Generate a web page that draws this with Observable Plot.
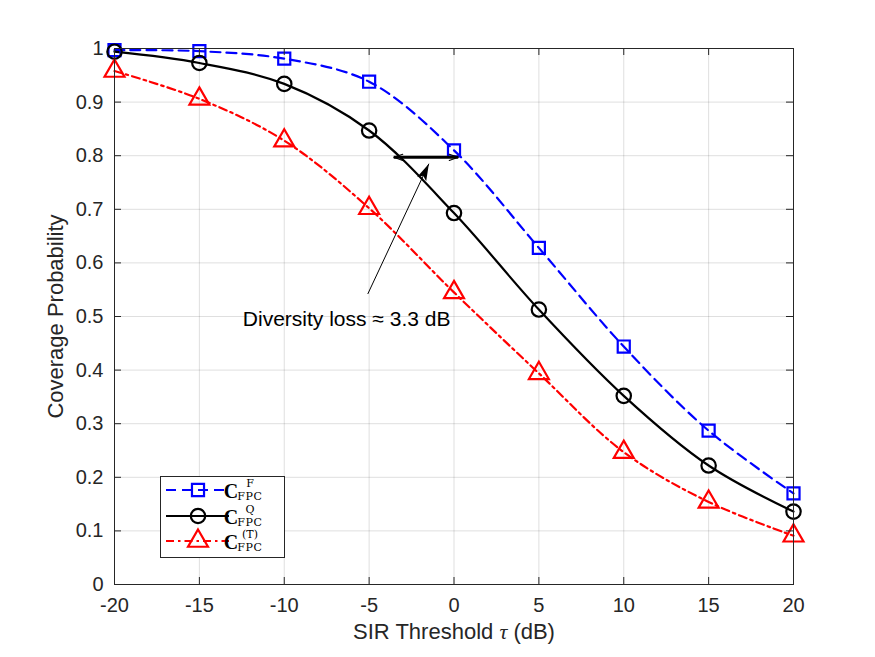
<!DOCTYPE html>
<html>
<head>
<meta charset="utf-8">
<script src="https://cdn.jsdelivr.net/npm/d3@7"></script>
<script src="https://cdn.jsdelivr.net/npm/@observablehq/plot@0.6"></script>
<style>
  html, body { margin: 0; padding: 0; background: #fff; }
  #chart { width: 875px; height: 657px; }
</style>
</head>
<body>
<div id="chart"></div>
<script>
// SIR threshold (dB) and coverage probability for the three schemes
const sirDb = [-20, -15, -10, -5, 0, 5, 10, 15, 20];
const covF  = [0.997, 0.995, 0.981, 0.938, 0.810, 0.628, 0.444, 0.287, 0.170];
const covQ  = [0.994, 0.973, 0.934, 0.847, 0.693, 0.513, 0.352, 0.222, 0.136];
const covT  = [0.958, 0.906, 0.828, 0.702, 0.545, 0.394, 0.247, 0.154, 0.091];

const xTicks = [-20, -15, -10, -5, 0, 5, 10, 15, 20];
const yTicks = [0, 0.1, 0.2, 0.3, 0.4, 0.5, 0.6, 0.7, 0.8, 0.9, 1];

const xLabel = "SIR Threshold τ (dB)";
const yLabel = "Coverage Probability";

// Legend entries: superscript of C and subscript
const legendSup = ["F", "Q", "(T)"];
const legendSub = "FPC";

// Annotation: horizontal gap arrow, pointer arrow and its note
const gapArrow = { x1: -3.55, x2: 0.25, y: 0.797 };
const pointer  = { x1: -5.08, y1: 0.542, x2: -1.48, y2: 0.785 };
const note     = { x: -12.44, y: 0.494, text: "Diversity loss ≈ 3.3 dB" };

// Layout
const W = 875, H = 657;
const mL = 114, mR = 82, mT = 48, mB = 73;
const fw = W - mL - mR, fh = H - mT - mB;
const xDomain = [-20, 20], yDomain = [0, 1];
const tickLen = 7;
const tx = tickLen * (xDomain[1] - xDomain[0]) / fw;
const ty = tickLen * (yDomain[1] - yDomain[0]) / fh;
const INK = "#262626";
const FONT = "'Liberation Sans', Arial, Helvetica, sans-serif";

const series = [
  { values: covF, color: "#0000ff", dash: "10,6",        symbol: "square",   r: 6.8 },
  { values: covQ, color: "#000000", dash: null,          symbol: "circle",   r: 7.2 },
  { values: covT, color: "#ff0000", dash: "8,4,2.5,4",   symbol: "triangle", r: 7.4 }
];
const rowsOf = (vals) => sirDb.map((x, i) => ({ x, y: vals[i] }));

// Filled, notched arrowhead drawn at the pointer tip
const headShape = {
  draw(ctx, l, r) {
    const w = 5;
    ctx.moveTo(0, -l);
    ctx.lineTo(w, 0);
    ctx.lineTo(0, -l * 0.22);
    ctx.lineTo(-w, 0);
    ctx.closePath();
  }
};
const pointerAngle = Math.atan2(
  (pointer.x2 - pointer.x1) * fw / (xDomain[1] - xDomain[0]),
  (pointer.y2 - pointer.y1) * fh / (yDomain[1] - yDomain[0])
) * 180 / Math.PI;
const gapMid = (gapArrow.x1 + gapArrow.x2) / 2;

const marks = [
  Plot.gridX(xTicks, { stroke: INK, strokeOpacity: 0.15, strokeWidth: 1 }),
  Plot.gridY(yTicks, { stroke: INK, strokeOpacity: 0.15, strokeWidth: 1 }),
  Plot.axisX(xTicks, { tickSize: 0, tickPadding: 13, tickFormat: d => String(d), fontSize: 20, label: null, color: INK }),
  Plot.axisY(yTicks, { tickSize: 0, tickPadding: 11, tickFormat: d => String(d), fontSize: 20, label: null, color: INK }),
  Plot.text([xLabel], { frameAnchor: "bottom", dy: 47, fontSize: 22, textAnchor: "middle", lineAnchor: "middle", fill: INK, letterSpacing: 0.8 }),
  Plot.text([yLabel], { frameAnchor: "left", dx: -59, rotate: -90, fontSize: 22, textAnchor: "middle", lineAnchor: "middle", fill: INK, letterSpacing: 0.6 })
];

for (const s of series) {
  marks.push(Plot.line(rowsOf(s.values), {
    x: "x", y: "y", stroke: s.color, strokeWidth: 2.2, curve: "catmull-rom",
    strokeDasharray: s.dash ?? undefined
  }));
}
for (const s of series) {
  marks.push(Plot.dot(rowsOf(s.values), {
    x: "x", y: "y", symbol: s.symbol, r: s.r, stroke: s.color, strokeWidth: 2.2, fill: "none"
  }));
}

marks.push(
  // gap arrow: thick shaft with thin open heads at both ends
  Plot.link([gapArrow], { x1: "x1", x2: "x2", y1: "y", y2: "y", stroke: "black", strokeWidth: 3 }),
  Plot.arrow([gapArrow], { x1: () => gapMid, x2: "x1", y1: "y", y2: "y", stroke: "black", strokeWidth: 1.1, headLength: 13, headAngle: 38 }),
  Plot.arrow([gapArrow], { x1: () => gapMid, x2: "x2", y1: "y", y2: "y", stroke: "black", strokeWidth: 1.1, headLength: 13, headAngle: 38 }),
  // pointer from the note to the gap
  Plot.link([pointer], { x1: "x1", y1: "y1", x2: "x2", y2: "y2", stroke: "black", strokeWidth: 1 }),
  Plot.vector([pointer], { x: "x2", y: "y2", rotate: pointerAngle, length: 17, anchor: "end", shape: headShape, fill: "black", stroke: "none" }),
  Plot.text([note], { x: "x", y: "y", text: "text", textAnchor: "start", lineAnchor: "middle", fontSize: 21, fill: "black" }),
  // box and inward ticks on all four sides
  Plot.frame({ stroke: INK, strokeWidth: 1 }),
  Plot.ruleX(xTicks, { x: d => d, y1: yDomain[0], y2: yDomain[0] + ty, stroke: INK }),
  Plot.ruleX(xTicks, { x: d => d, y1: yDomain[1] - ty, y2: yDomain[1], stroke: INK }),
  Plot.ruleY(yTicks, { y: d => d, x1: xDomain[0], x2: xDomain[0] + tx, stroke: INK }),
  Plot.ruleY(yTicks, { y: d => d, x1: xDomain[1] - tx, x2: xDomain[1], stroke: INK })
);

const plot = Plot.plot({
  width: W, height: H,
  marginLeft: mL, marginRight: mR, marginTop: mT, marginBottom: mB,
  style: { fontFamily: FONT, background: "white", color: INK, overflow: "visible" },
  x: { domain: xDomain, ticks: xTicks },
  y: { domain: yDomain, ticks: yTicks },
  marks
});

const svg = d3.select(plot);

// italic tau in the x label
svg.selectAll("text").filter(function () { return this.textContent === xLabel; }).each(function () {
  const t = d3.select(this);
  const [a, b] = xLabel.split("τ");
  t.text(null);
  t.append("tspan").text(a);
  t.append("tspan").attr("font-family", "'Liberation Serif', 'DejaVu Serif', serif").attr("font-style", "italic").text("τ");
  t.append("tspan").text(b);
});

// legend box
const lg = svg.append("g").attr("class", "legend");
const box = { x: 160.5, y: 476.5, w: 124, h: 81 };
lg.append("rect").attr("x", box.x).attr("y", box.y).attr("width", box.w).attr("height", box.h)
  .attr("fill", "white").attr("stroke", INK).attr("stroke-width", 1);
const rowY = [490, 516, 541];
const symMap = { square: d3.symbolSquare, circle: d3.symbolCircle, triangle: d3.symbolTriangle };
series.forEach((s, k) => {
  const cy = rowY[k];
  const ln = lg.append("line").attr("x1", 166).attr("x2", 229).attr("y1", cy).attr("y2", cy)
    .attr("stroke", s.color).attr("stroke-width", 2.2);
  if (s.dash) ln.attr("stroke-dasharray", s.dash);
  lg.append("path").attr("d", d3.symbol(symMap[s.symbol], Math.PI * s.r * s.r)())
    .attr("transform", `translate(198,${cy})`)
    .attr("fill", "none").attr("stroke", s.color).attr("stroke-width", 2.2);
  const base = cy + 8;
  lg.append("text").attr("x", 231).attr("y", base)
    .attr("font-family", "'Liberation Serif', 'DejaVu Serif', serif").attr("font-weight", "bold")
    .attr("font-size", 20).attr("fill", "black").text("C");
  lg.append("text").attr("x", 250).attr("y", base - 11)
    .attr("font-family", "'DejaVu Serif', 'Liberation Serif', serif")
    .attr("font-size", 11).attr("fill", "black").text(legendSup[k]);
  lg.append("text").attr("x", 250).attr("y", base + 2)
    .attr("font-family", "'DejaVu Serif', 'Liberation Serif', serif")
    .attr("font-size", 11).attr("letter-spacing", 0.6).attr("fill", "black").text(legendSub);
});

document.getElementById("chart").appendChild(plot);
</script>
</body>
</html>
